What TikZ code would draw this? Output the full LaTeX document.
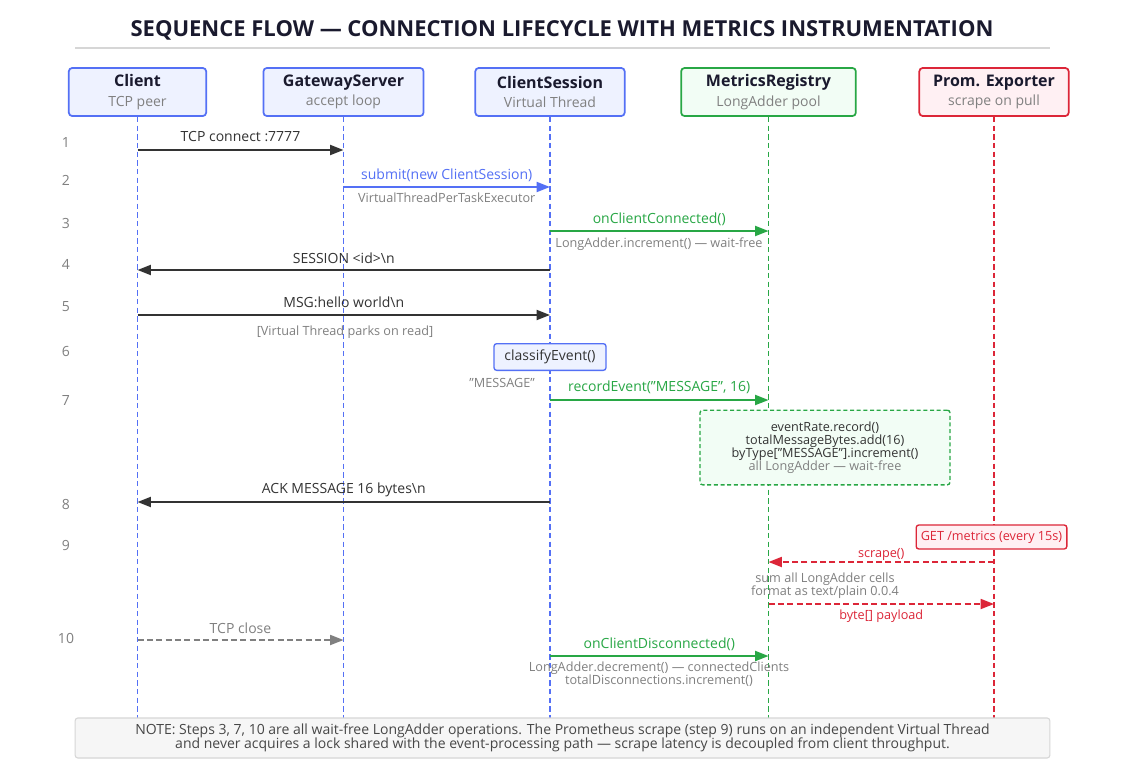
\documentclass[tikz,border=0pt]{standalone}
\usepackage{fontspec}
\setmainfont{Open Sans}
\usetikzlibrary{arrows.meta}
\definecolor{blueln}{RGB}{84,112,245}
\definecolor{bluefl}{RGB}{238,242,255}
\definecolor{greenln}{RGB}{40,167,69}
\definecolor{greenfl}{RGB}{242,253,245}
\definecolor{redln}{RGB}{220,38,56}
\definecolor{redfl}{RGB}{255,240,243}
\definecolor{darktx}{RGB}{26,26,46}
\definecolor{msgtx}{RGB}{51,51,51}
\definecolor{graytx}{RGB}{128,128,128}
\definecolor{notefl}{RGB}{246,246,246}
\definecolor{notebd}{RGB}{214,214,214}
\newcommand\fzTitle{\fontsize{16.5}{19}\selectfont}
\newcommand\fzHead{\fontsize{12}{14}\selectfont}
\newcommand\fzSub{\fontsize{10.5}{12}\selectfont}
\newcommand\fzMsg{\fontsize{10.5}{12}\selectfont}
\newcommand\fzSmall{\fontsize{9.5}{11}\selectfont}
\newcommand\fzFoot{\fontsize{10.5}{12}\selectfont}
\tikzset{
  part/.style={draw, line width=1.3pt, rounded corners=2.5pt, minimum height=36pt, align=center, inner sep=0pt},
  bluepart/.style={part, draw=blueln, fill=bluefl},
  greenpart/.style={part, draw=greenln, fill=greenfl},
  redpart/.style={part, draw=redln, fill=redfl},
  lifeb/.style={blueln, line width=0.9pt, dash pattern=on 4pt off 2.5pt},
  lifeg/.style={greenln, line width=0.9pt, dash pattern=on 4pt off 2.5pt},
  lifer/.style={redln, line width=0.9pt, dash pattern=on 4pt off 2.5pt},
  tip/.style={-{Triangle[length=10pt,width=7.5pt]}},
  msgk/.style={tip, msgtx, line width=1.4pt},
  msgb/.style={tip, blueln, line width=1.4pt},
  msgg/.style={tip, greenln, line width=1.4pt},
  msgr/.style={tip, redln, line width=1.3pt, dash pattern=on 4.5pt off 2.5pt},
  msggray/.style={tip, graytx, line width=1.3pt, dash pattern=on 4.5pt off 2.5pt},
  stepnum/.style={text=graytx, font=\fzSub},
  lbl/.style={font=\fzMsg, inner sep=0pt},
  note/.style={font=\fzSmall, text=graytx, inner sep=0pt, align=center},
}
\begin{document}
\begin{tikzpicture}[x=0.75pt,y=-0.75pt]
\useasboundingbox[fill=white] (0,0) rectangle (1125,775);
% title
\node[font=\fzTitle\bfseries, text=darktx] (title) at (562,30) {SEQUENCE FLOW — CONNECTION LIFECYCLE WITH METRICS INSTRUMENTATION};
\coordinate (ulL) at (75,48);
\coordinate (ulR) at (1050,48);
\draw[notebd, line width=1pt] (ulL) -- (ulR);
% participants
\node[bluepart, minimum width=103pt] (client) at (137.5,92) {{\fzHead\bfseries\color{darktx}Client}\\[2.5pt]{\fzSub\color{graytx}TCP peer}};
\node[bluepart, minimum width=120pt] (gw) at (343.5,92) {{\fzHead\bfseries\color{darktx}GatewayServer}\\[2.5pt]{\fzSub\color{graytx}accept loop}};
\node[bluepart, minimum width=112pt] (cs) at (550,92) {{\fzHead\bfseries\color{darktx}ClientSession}\\[2.5pt]{\fzSub\color{graytx}Virtual Thread}};
\node[greenpart, minimum width=131pt] (mr) at (768.5,92) {{\fzHead\bfseries\color{darktx}MetricsRegistry}\\[2.5pt]{\fzSub\color{graytx}LongAdder pool}};
\node[redpart, minimum width=112pt] (pe) at (994,92) {{\fzHead\bfseries\color{darktx}Prom. Exporter}\\[2.5pt]{\fzSub\color{graytx}scrape on pull}};
% lifelines
\coordinate (clientE) at (137.5,718);
\coordinate (gwE) at (343.5,718);
\coordinate (csE) at (550,718);
\coordinate (mrE) at (768.5,718);
\coordinate (peE) at (994,718);
\draw[lifeb] (client.south) -- (clientE);
\draw[lifeb] (gw.south) -- (gwE);
\draw[lifeb] (cs.south) -- (csE);
\draw[lifeg] (mr.south) -- (mrE);
\draw[lifer] (pe.south) -- (peE);
% step numbers
\foreach \n/\yy in {1/142,2/180,3/223,4/264,5/307,6/351,7/400,8/504,9/545,10/638}
  \node[stepnum] (s\n) at (66,\yy) {\n};
% message coordinates
\foreach \nm/\xx in {C/137.5,G/343.5,S/550,M/768.5,P/994}{
  \foreach \k/\yy in {1/150,2/187,3/231,4/270,5/315,7/400,8/502,9/562,10/604,11/640,12/656}
    \coordinate (\nm\k) at (\xx,\yy);
}
% 1
\draw[msgk] (C1) -- node[lbl, text=msgtx, yshift=9.75pt] (l1) {TCP connect :7777} (G1);
% 2
\draw[msgb] (G2) -- node[lbl, text=blueln, yshift=9pt] (l2) {submit(new ClientSession)} (S2);
\node[note] (n2) at (446.75,198) {VirtualThreadPerTaskExecutor};
% 3
\draw[msgg] (S3) -- node[lbl, text=greenln, yshift=9pt] (l3) {onClientConnected()} (M3);
\node[note] (n3) at (659,244) {LongAdder.increment() — wait-free};
% 4
\draw[msgk] (S4) -- node[lbl, text=msgtx, yshift=9pt] (l4) {SESSION <id>\textbackslash n} (C4);
% 5
\draw[msgk] (C5) -- node[lbl, text=msgtx, yshift=9.75pt] (l5) {MSG:hello world\textbackslash n} (S5);
\node[note] (n5) at (345,332) {[Virtual Thread parks on read]};
% 6
\node[draw=blueln, fill=bluefl, line width=1pt, rounded corners=2pt, minimum width=84pt, minimum height=20pt, font=\fzMsg, text=msgtx, inner sep=0pt] (ce) at (550,357) {classifyEvent()};
% 7
\node[note, anchor=east] (n7a) at (535,383) {"MESSAGE"};
\draw[msgg] (S7) -- node[lbl, text=greenln, yshift=9.75pt] (l7) {recordEvent("MESSAGE", 16)} (M7);
\node[draw=greenln, fill=greenfl, line width=1pt, dash pattern=on 3pt off 2pt, rounded corners=2pt, minimum width=187.5pt, minimum height=56pt, inner sep=0pt, align=center, font=\fzSmall, text=msgtx] (box7) at (825,447.5)
  {eventRate.record()\\[-1.2pt]totalMessageBytes.add(16)\\[-1.2pt]byType["MESSAGE"].increment()\\[-1.2pt]{\color{graytx}all LongAdder — wait-free}};
% 8
\draw[msgk] (S8) -- node[lbl, text=msgtx, yshift=9pt] (l8) {ACK MESSAGE 16 bytes\textbackslash n} (C8);
% 9
\node[draw=redln, fill=redfl, line width=1pt, rounded corners=2pt, minimum width=113pt, minimum height=18pt, inner sep=0pt, font=\fzSmall, text=redln] (get) at (991.5,537) {GET /metrics (every 15s)};
\draw[msgr] (P9) -- node[lbl, font=\fzSmall, text=redln, yshift=5.5pt] (l9) {scrape()} (M9);
\node[note] (n9) at (825,586) {sum all LongAdder cells\\[-1.2pt]format as text/plain 0.0.4};
\draw[msgr] (M10) -- node[lbl, font=\fzSmall, text=redln, yshift=-9.5pt] (l10) {byte[] payload} (P10);
% 10
\draw[msggray] (C11) -- node[lbl, text=graytx, yshift=9pt] (l11) {TCP close} (G11);
\draw[msgg] (S12) -- node[lbl, text=greenln, yshift=9pt] (l12) {onClientDisconnected()} (M12);
\node[note] (n12) at (659,674.5) {LongAdder.decrement() — connectedClients\\[-1.2pt]totalDisconnections.increment()};
% footer note
\node[draw=notebd, fill=notefl, line width=0.8pt, rounded corners=2pt, minimum width=731pt, minimum height=30pt, inner sep=0pt, align=center, font=\fzFoot, text=msgtx!90] (foot) at (562.5,738)
  {NOTE: Steps 3, 7, 10 are all wait-free LongAdder operations. The Prometheus scrape (step 9) runs on an independent Virtual Thread\\[-1.5pt]and never acquires a lock shared with the event-processing path — scrape latency is decoupled from client throughput.};
\end{tikzpicture}
\end{document}
